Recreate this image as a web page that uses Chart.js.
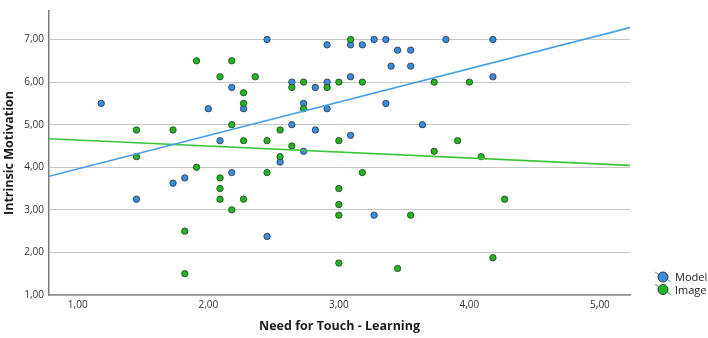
<!DOCTYPE html>
<html>
<head>
<meta charset="utf-8">
<script src="https://cdn.jsdelivr.net/npm/chart.js@4/dist/chart.umd.min.js"></script>
<style>
  body { margin: 0; background: #fff; }
  #wrap { width: 708px; height: 338px; position: relative; }
</style>
</head>
<body>
<div id="wrap"><canvas id="myChart"></canvas></div>
<script>
// scatter values (x = need for touch, y = intrinsic motivation)
var modelX = [1.18, 2.00, 2.09, 2.18, 2.18, 1.45, 1.73, 1.82, 2.45, 2.91, 3.09, 3.18, 3.27, 3.36, 3.45, 3.55,
  3.40, 3.55, 3.82, 2.64, 2.82, 2.91, 3.09, 2.27, 2.73, 2.91, 3.36, 3.64, 2.64, 2.82, 3.09, 2.73, 2.55, 4.18,
  4.18, 3.27, 2.45];
var modelY = [5.50, 5.375, 4.625, 5.875, 3.875, 3.25, 3.625, 3.75, 7.00, 6.875, 6.875, 6.875, 7.00, 7.00, 6.75, 6.75,
  6.375, 6.375, 7.00, 6.00, 5.875, 6.00, 6.125, 5.375, 5.50, 5.375, 5.50, 5.00, 5.00, 4.875, 4.75, 4.375, 4.125, 7.00,
  6.125, 2.875, 2.375];

var imageX = [1.45, 1.45, 1.73, 1.91, 2.09, 2.18, 2.18, 1.91, 2.09, 2.09, 2.09, 2.18, 1.82, 1.82, 3.09, 2.36,
  2.64, 2.73, 2.91, 3.00, 3.18, 2.27, 2.27, 2.73, 2.55, 2.27, 2.45, 3.00, 2.64, 2.55, 3.73, 3.91, 3.73, 4.00,
  2.45, 3.18, 4.09, 2.27, 3.00, 3.00, 3.00, 3.55, 3.00, 3.45, 4.27, 4.18];
var imageY = [4.875, 4.25, 4.875, 6.50, 6.125, 6.50, 5.00, 4.00, 3.75, 3.50, 3.25, 3.00, 2.50, 1.50, 7.00, 6.125,
  5.875, 6.00, 5.875, 6.00, 6.00, 5.75, 5.50, 5.375, 4.875, 4.625, 4.625, 4.625, 4.50, 4.25, 4.375, 4.625, 6.00, 6.00,
  3.875, 3.875, 4.25, 3.25, 3.50, 3.125, 2.875, 2.875, 1.75, 1.625, 3.25, 1.875];

// fit line end points as drawn in the picture
var fitX = [0.78, 5.23];
var modelFitY = [3.79, 7.28];
var imageFitY = [4.67, 4.045];

var xTicks = [1, 2, 3, 4, 5];
var yTicks = [1, 2, 3, 4, 5, 6, 7];

var seriesNames = ['Model', 'Image'];
var blue = '#3b8ddc';
var green = '#22b422';

function pts(xs, ys) {
  return xs.map(function (x, i) { return { x: x, y: ys[i] }; });
}
function comma(v) {
  return Number(v).toFixed(2).replace('.', ',');
}

var fontFam = '"Open Sans", "DejaVu Sans", sans-serif';

// legend drawn at the lower right, like the original
var sideLegend = {
  id: 'sideLegend',
  afterDraw: function (chart) {
    var ctx = chart.ctx;
    var cols = [blue, green];
    var lines = ['#6fb0ea', '#55cc55'];
    ctx.save();
    seriesNames.forEach(function (name, i) {
      var cx = 663, cy = 277 + i * 12.5;
      ctx.strokeStyle = lines[i];
      ctx.lineWidth = 1.2;
      ctx.beginPath();
      ctx.moveTo(cx - 8, cy - 5);
      ctx.lineTo(cx + 8, cy + 5);
      ctx.stroke();
      ctx.fillStyle = cols[i];
      ctx.strokeStyle = '#2f3a40';
      ctx.lineWidth = 1;
      ctx.beginPath();
      ctx.arc(cx, cy, 5, 0, Math.PI * 2);
      ctx.fill();
      ctx.stroke();
      ctx.fillStyle = '#222';
      ctx.font = '11px ' + fontFam;
      ctx.textBaseline = 'middle';
      ctx.textAlign = 'left';
      ctx.fillText(name, 675, cy + 1);
    });
    ctx.restore();
  }
};

var ctx = document.getElementById('myChart');
var myChart = new Chart(ctx, {
  type: 'scatter',
  data: {
    datasets: [
      {
        label: 'Model fit',
        data: pts(fitX, modelFitY),
        showLine: true,
        borderColor: '#4a9ee8',
        borderWidth: 1.6,
        pointRadius: 0
      },
      {
        label: 'Image fit',
        data: pts(fitX, imageFitY),
        showLine: true,
        borderColor: '#3cc43c',
        borderWidth: 1.6,
        pointRadius: 0
      },
      {
        label: seriesNames[1],
        data: pts(imageX, imageY),
        backgroundColor: green,
        borderColor: '#2a3a2a',
        borderWidth: 0.8,
        pointRadius: 3.2
      },
      {
        label: seriesNames[0],
        data: pts(modelX, modelY),
        backgroundColor: blue,
        borderColor: '#2a3440',
        borderWidth: 0.8,
        pointRadius: 3.2
      }
    ]
  },
  options: {
    responsive: true,
    maintainAspectRatio: false,
    animation: false,
    layout: { padding: { left: 0, top: 3, right: 78, bottom: 0 } },
    plugins: {
      legend: { display: false },
      tooltip: { enabled: false }
    },
    scales: {
      x: {
        type: 'linear',
        min: 0.78,
        max: 5.23,
        afterBuildTicks: function (scale) {
          scale.ticks = xTicks.map(function (v) { return { value: v }; });
        },
        afterFit: function (scale) { scale.height = 43; },
        grid: { display: false, drawTicks: false },
        border: { display: true, color: '#8c8c8c', width: 1.5 },
        ticks: {
          padding: 4,
          color: '#333',
          font: { family: fontFam, size: 10 },
          maxRotation: 0,
          callback: function (v) { return comma(v); }
        },
        title: {
          display: true,
          text: 'Need for Touch - Learning',
          color: '#1a1a1a',
          font: { family: fontFam, size: 12.5, weight: 'bold' },
          padding: { top: 6 }
        }
      },
      y: {
        type: 'linear',
        min: 1,
        max: 7.67,
        afterBuildTicks: function (scale) {
          scale.ticks = yTicks.map(function (v) { return { value: v }; });
        },
        afterFit: function (scale) { scale.width = 49; },
        grid: { color: '#c8c8c8', lineWidth: 1, drawTicks: false },
        border: { display: true, color: '#7a7a7a', width: 1.5 },
        ticks: {
          padding: 5,
          color: '#333',
          font: { family: fontFam, size: 10 },
          callback: function (v) { return comma(v); }
        },
        title: {
          display: true,
          text: 'Intrinsic Motivation',
          color: '#1a1a1a',
          font: { family: fontFam, size: 12.5, weight: 'bold' },
          padding: { top: 2, bottom: 0 }
        }
      }
    }
  },
  plugins: [sideLegend]
});
</script>
</body>
</html>
